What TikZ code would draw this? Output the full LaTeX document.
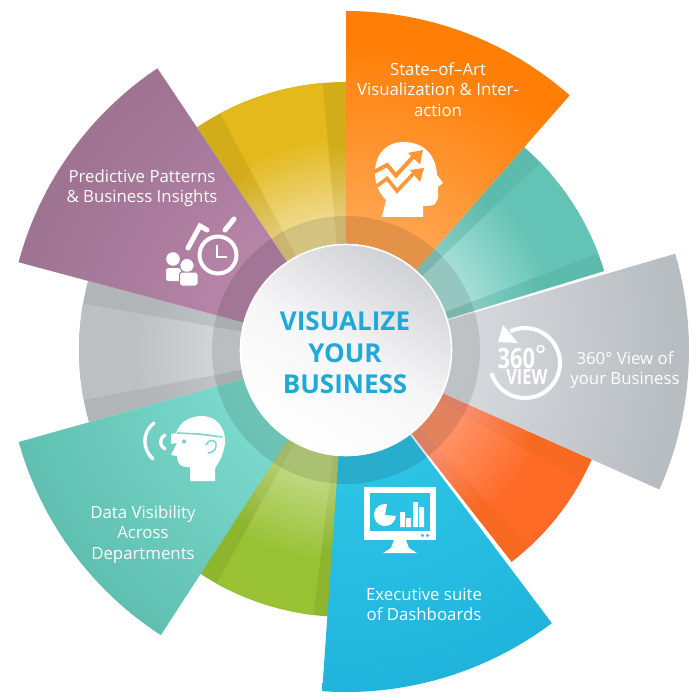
\documentclass[tikz,border=0pt]{standalone}
\usepackage{fontspec}
\setmainfont{Open Sans}
\newcommand\mkrad[5]{\definecolor{#1a}{HTML}{#4}\definecolor{#1b}{HTML}{#5}%
\pgfdeclareradialshading{#1}{\pgfpointorigin}{color(0bp)=(#1a); color(#2bp)=(#1a); color(#3bp)=(#1b); color(50bp)=(#1b)}}
% big wedges
\mkrad{gOrange}{9}{23}{FFA652}{FF7E05}
\mkrad{gGrayB}{9}{24}{D6DADE}{B8BDC1}
\mkrad{gBlue}{9}{25}{2DC4E6}{20B4DC}
\mkrad{gTealB}{9}{25}{7BDACD}{5FBFB0}
\mkrad{gPurple}{9}{24}{B785A9}{9F7392}
% small wedges: base and lighter streak
\mkrad{gTeal}{12}{19}{8ACDC4}{5CBBAC}
\mkrad{gTealS}{12}{20}{A8E0D8}{63C3B4}
\mkrad{gRed}{12}{19}{F89070}{F86A22}
\mkrad{gRedS}{12}{20}{FF946A}{FF6A26}
\mkrad{gGreen}{12}{19}{B8CF78}{8DB52E}
\mkrad{gGreenS}{12}{20}{C0D982}{98C233}
\mkrad{gGray}{12}{19}{C0C4C6}{B1B5B8}
\mkrad{gGrayS}{12}{20}{D2D6D9}{BCC0C3}
\mkrad{gYellow}{12}{19}{E4CD80}{D2AD19}
\mkrad{gYellowS}{12}{20}{EFDB92}{E3B91B}
\definecolor{hubblue}{HTML}{1FA9D9}
\definecolor{hubtop}{HTML}{D0D1D5}
\definecolor{hubmid}{HTML}{F6F6F7}
\definecolor{headorange}{HTML}{FF9638}
\definecolor{facepurple}{HTML}{B07EA2}
\definecolor{faceteal}{HTML}{76D6C9}
\definecolor{faceblue}{HTML}{2BC2E4}
\newcommand\sector[4]{\begin{scope}\clip (0,0)--(#1:#3) arc[start angle=#1,end angle=#2,radius=#3]--cycle;
\shade[shading=#4] (0,0) circle[radius=#3];\end{scope}}
\tikzset{
 caption/.style={text=white,align=center,font=\fontsize{16.8}{20.6}\selectfont,inner sep=0pt},
 title/.style={text=hubblue,align=center,font=\fontsize{26}{31.3}\selectfont\bfseries,inner sep=0pt},
 iconline/.style={draw=white,line cap=round,line join=round},
 glyph/.style={text=white,inner sep=0pt,font=\bfseries}
}
\begin{document}
\begin{tikzpicture}[x=1pt,y=-1pt]
\useasboundingbox (0,0) rectangle (700,700);
\begin{scope}[x=1pt,y=1pt,shift={(346,-350)}]
 % small wedges
 \sector{48.7}{17}{270}{gTeal}   \sector{44}{21}{270}{gTealS}
 \sector{-24}{-52}{269}{gRed}    \sector{-29}{-47}{269}{gRedS}
 \sector{-93}{-123.4}{267}{gGreen} \sector{-97}{-119}{267}{gGreenS}
 \sector{195.7}{165}{267}{gGray} \sector{190.8}{170}{267}{gGrayS}
 \sector{123.8}{90}{268}{gYellow} \sector{118}{95}{268}{gYellowS}
 % big wedges
 \sector{90}{48.7}{339}{gOrange}
 \sector{16.3}{-24}{343}{gGrayB}
 \sector{-53}{-94}{342}{gBlue}
 \sector{237}{195.7}{340}{gTealB}
 \sector{165}{123.8}{339}{gPurple}
 % ring
 \fill[black,opacity=.11,even odd rule] (0,0) circle[radius=134] circle[radius=105];
 % hub
 \shade[top color=hubtop,bottom color=white,middle color=hubmid,shading angle=-30] (0,0) circle[radius=106];
 \draw[white,line width=1.6pt] (0,0) circle[radius=105.5];
\end{scope}
% hub title
\node[title] (hub) at (345,353) {VISUALIZE\\YOUR\\BUSINESS};
% captions
\node[caption] (capA) at (438,89.5) {State–of–Art\\Visualization \& Inter-\\action};
\node[caption] (capB) at (625,370) {360° View of\\your Business};
\node[caption] (capC) at (424,604.5) {Executive suite\\of Dashboards};
\node[caption] (capD) at (143,534.5) {Data Visibility\\Across\\Departments};
\node[caption] (capE) at (142,188) {Predictive Patterns\\\& Business Insights};
% head with arrows
\fill[white] (382,217) -- (386,200) .. controls (378,192) and (375,183) .. (375,171)
  .. controls (376,152) and (388,142) .. (403,142) .. controls (425,142) and (436,156) .. (437,175)
  -- (443,183) -- (438,187) -- (438,198) -- (435,204) .. controls (432,206) and (427,206) .. (423,206) -- (423,217) -- cycle;
\draw[headorange,line width=4pt,line join=miter] (374,172) -- (387,165) -- (396,175.5) -- (413,157);
\fill[headorange] (408,153) -- (423,150) -- (420,164.5) -- cycle;
\draw[headorange,line width=3.6pt,line join=miter] (377,186) -- (387,178.5) -- (397,191) -- (414,173);
\fill[headorange] (410,170) -- (424,168) -- (420,182) -- cycle;
% 360 view icon
\begin{scope}[x=1pt,y=1pt,shift={(525,-363)}]
 \draw[white,line width=4pt] (197:35) arc[start angle=197,end angle=475,radius=35];
\end{scope}
\fill[white] (498,342) -- (503,325) -- (518,343) -- cycle;
\node[glyph,align=left,xscale=.78] (v360) at (522.5,366) {\fontsize{28}{17.5}\selectfont 360\\\hspace{11pt}\fontsize{21}{17.5}\selectfont VIEW};
\draw[white,line width=1.6pt] (540.5,349) circle[radius=3.4];
% monitor
\fill[white] (364,487) rectangle (436,540);
\fill[faceblue] (370,493) rectangle (430,531);
\fill[white] (394,540) -- (406,540) -- (409,548) -- (417,553) -- (383,553) -- (391,548) -- cycle;
\begin{scope}[x=1pt,y=1pt,shift={(385,-515)}]
 \fill[white] (0,0) -- (80:11) arc[start angle=80,end angle=355,radius=11] -- cycle;
\end{scope}
\fill[white] (400,512) rectangle (405,527) (406,518) rectangle (411,527) (413,502) rectangle (418,527) (419,507) rectangle (424,527);
\fill[faceblue] (422.5,535.5) circle[radius=1.6] (427.5,535.5) circle[radius=1.6];
% glasses head
\fill[white] (176,433) .. controls (180,421) and (191,416) .. (202,416)
  .. controls (217,416) and (225,428) .. (225,441) .. controls (225,450) and (220,462) .. (215,468)
  -- (215,481) -- (190,481) -- (190,467) .. controls (184,468) and (177,466) .. (177,456) -- (171,455) -- (177,443) -- (171,444) -- (171,434) -- cycle;
\draw[faceteal,line width=1.6pt] (177,433) -- (199,434) -- (222,437);
\fill[faceteal] (184,441.5) circle[radius=2.2];
\draw[faceteal,line width=1.4pt,line cap=round] (206,445) .. controls (208,439) and (217,438) .. (216,446) .. controls (216,450) and (212,453) .. (208,453);
\draw[iconline,line width=3.4pt] (154,423) .. controls (142,432) and (142,449) .. (153,459);
\draw[iconline,line width=3.4pt] (165,435) .. controls (159,439) and (159,445) .. (165,449);
% clock and people
\draw[white,line width=4pt] (218,255) circle[radius=18.5];
\draw[iconline,line width=2.8pt,line cap=butt,line join=miter] (217,245) -- (217,257) -- (227,257);
\draw[iconline,line width=5pt,line join=miter] (188,248) -- (200,226) -- (207,230);
\draw[iconline,line width=5pt] (225,230) -- (234,219);
\fill[white] (173,259) circle[radius=6.8];
\fill[white,rounded corners=2.5pt] (166,268) rectangle (181,281);
\fill[white,draw=facepurple,line width=1pt] (187,265.5) circle[radius=7.2];
\fill[white,draw=facepurple,line width=1pt,rounded corners=2.5pt] (179.5,272) rectangle (198,286);
\end{tikzpicture}
\end{document}
